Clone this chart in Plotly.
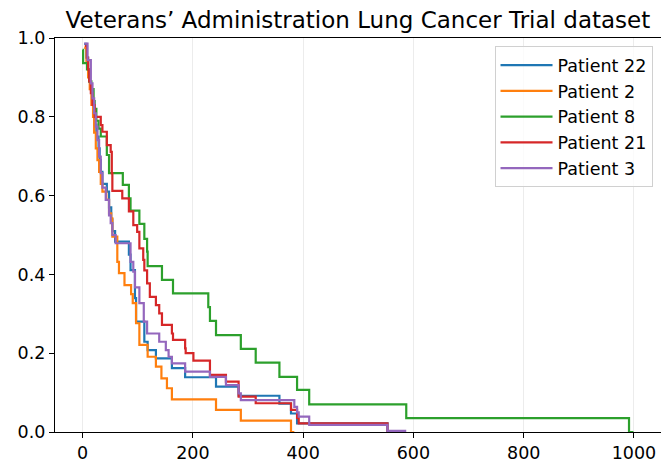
import plotly.graph_objects as go

# Patient labels and colours
patients = ["Patient 22", "Patient 2", "Patient 8", "Patient 21", "Patient 3"]
colors = ["#1f77b4", "#ff7f0e", "#2ca02c", "#d62728", "#9467bd"]

# Step survival curves (time in days, survival probability)
t_p22 = [3, 7, 10, 12, 15, 18, 20, 22, 25, 29, 31, 33, 36, 44, 48, 52, 54, 59, 84, 87, 95, 97,
         112, 118, 133, 162, 186, 242, 283, 357, 378, 389, 553]
s_p22 = [0.985, 0.95, 0.92, 0.89, 0.87, 0.84, 0.81, 0.78, 0.75, 0.72, 0.69, 0.66, 0.63, 0.61, 0.57,
         0.54, 0.51, 0.483, 0.45, 0.411, 0.34, 0.28, 0.229, 0.208, 0.187, 0.162, 0.139, 0.115,
         0.092, 0.072, 0.047, 0.022, 0.0]

t_p2 = [3, 7, 10, 13, 16, 19, 21, 24, 27, 30, 33, 36, 43, 48, 52, 54, 63, 66, 76, 88, 91, 97,
        103, 118, 133, 143, 153, 162, 242, 287, 378, 384]
s_p2 = [0.975, 0.94, 0.90, 0.87, 0.83, 0.80, 0.76, 0.72, 0.69, 0.66, 0.63, 0.61, 0.589, 0.555,
        0.542, 0.496, 0.432, 0.403, 0.373, 0.35, 0.327, 0.276, 0.221, 0.191, 0.166, 0.136, 0.111,
        0.083, 0.056, 0.029, 0.0, 0.0]

t_p8 = [0, 1, 8, 12, 16, 20, 22, 25, 29, 33, 44, 48, 73, 84, 87, 103, 112, 117, 118, 144, 164,
        228, 231, 242, 287, 314, 357, 389, 411, 587, 991, 999]
s_p8 = [0.97, 0.936, 0.92, 0.89, 0.87, 0.84, 0.82, 0.79, 0.77, 0.75, 0.703, 0.657, 0.627, 0.593,
        0.562, 0.528, 0.49, 0.458, 0.421, 0.386, 0.352, 0.317, 0.282, 0.246, 0.211, 0.176, 0.140,
        0.107, 0.070, 0.035, 0.0, 0.0]

t_p21 = [4, 8, 10, 12, 15, 18, 22, 33, 36, 44, 51, 53, 54, 72, 84, 92, 99, 103, 110, 112, 117,
         122, 133, 139, 144, 162, 164, 186, 187, 201, 231, 260, 283, 314, 378, 389, 392, 553]
s_p21 = [0.98, 0.95, 0.92, 0.89, 0.86, 0.83, 0.80, 0.779, 0.762, 0.728, 0.711, 0.657, 0.612,
         0.593, 0.56, 0.525, 0.508, 0.466, 0.437, 0.41, 0.377, 0.343, 0.322, 0.301, 0.272, 0.25,
         0.234, 0.212, 0.2, 0.181, 0.145, 0.128, 0.09, 0.073, 0.056, 0.036, 0.022, 0.0]

t_p3 = [3, 9, 15, 18, 21, 24, 27, 30, 33, 36, 42, 48, 51, 54, 60, 87, 92, 95, 103, 111, 117, 139,
        151, 156, 162, 186, 231, 260, 283, 287, 384, 389, 392, 411, 553, 587]
s_p3 = [0.986, 0.944, 0.885, 0.847, 0.809, 0.775, 0.741, 0.699, 0.657, 0.62, 0.589, 0.55, 0.53,
        0.5, 0.479, 0.432, 0.407, 0.367, 0.327, 0.28, 0.25, 0.229, 0.208, 0.191, 0.174, 0.153,
        0.14, 0.119, 0.098, 0.081, 0.064, 0.05, 0.039, 0.018, 0.003, 0.003]

series_t = [t_p22, t_p2, t_p8, t_p21, t_p3]
series_s = [s_p22, s_p2, s_p8, s_p21, s_p3]

x_ticks = [0, 200, 400, 600, 800, 1000]
y_ticks = [0.0, 0.2, 0.4, 0.6, 0.8, 1.0]

fig = go.Figure()
for name, col, tt, ss in zip(patients, colors, series_t, series_s):
    fig.add_trace(go.Scatter(x=tt, y=ss, mode="lines", name=name,
                             line=dict(color=col, width=2.2, shape="hv")))

font = "DejaVu Sans, sans-serif"
fs = 17.5
fig.update_layout(
    width=661, height=465,
    margin=dict(l=55, r=0, t=38, b=33, autoexpand=False),
    paper_bgcolor="white", plot_bgcolor="white",
    font=dict(family=font, size=fs, color="black"),
    title=dict(text="Veterans’ Administration Lung Cancer Trial dataset",
               x=0.5415, xanchor="center", y=0.958, yanchor="middle",
               font=dict(family=font, size=23, color="black")),
    showlegend=True,
    legend=dict(x=0.986, xanchor="right", y=0.979, yanchor="top",
                bgcolor="rgba(255,255,255,0.8)", bordercolor="#d0d0d0", borderwidth=1,
                font=dict(family=font, size=fs, color="black"),
                tracegroupgap=0, itemwidth=52),
)
fig.update_xaxes(range=[-50, 1049], tickvals=x_ticks, ticktext=[str(v) for v in x_ticks],
                 automargin=False,
                 showgrid=True, gridcolor="#ececec", gridwidth=1, zeroline=False,
                 showline=True, linecolor="black", linewidth=1.1, mirror=True,
                 ticks="outside", ticklen=5, tickwidth=1.1, tickcolor="black",
                 tickfont=dict(family=font, size=fs, color="black"))
fig.update_yaxes(range=[0, 1], tickvals=y_ticks, ticktext=[f"{v:.1f}" for v in y_ticks],
                 automargin=False,
                 showgrid=False, zeroline=False,
                 showline=True, linecolor="black", linewidth=1.1, mirror=True,
                 ticks="outside", ticklen=5, tickwidth=1.1, tickcolor="black",
                 tickfont=dict(family=font, size=fs, color="black"))

fig.write_html("out.html", config={"displayModeBar": False},
               post_script="document.body.style.margin='0';document.body.style.overflow='hidden';")
